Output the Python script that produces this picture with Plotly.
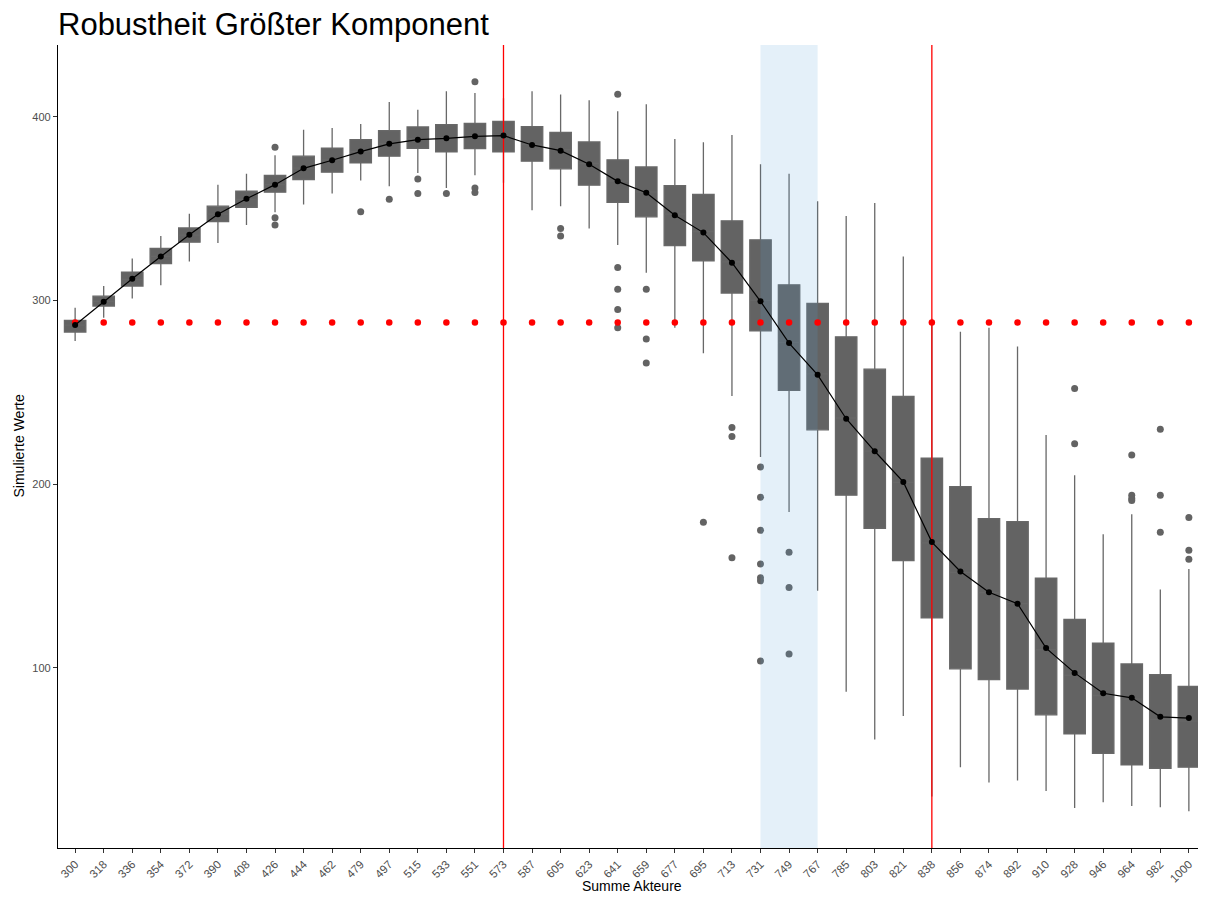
import plotly.graph_objects as go

labels = ["300", "318", "336", "354", "372", "390", "408", "426", "444", "462",
          "479", "497", "515", "533", "551", "573", "587", "605", "623", "641",
          "659", "677", "695", "713", "731", "749", "767", "785", "803", "821",
          "838", "856", "874", "892", "910", "928", "946", "964", "982", "1000"]

q1 = [282.8, 296.9, 307.8, 320.0, 331.7, 342.9, 350.7, 358.9, 365.8, 369.8,
      374.8, 378.5, 382.8, 380.8, 382.6, 380.8, 375.8, 371.6, 362.7, 353.4,
      345.5, 329.8, 321.6, 304.0, 283.5, 251.0, 229.6, 194.0, 176.0, 158.4,
      127.3, 99.5, 93.6, 88.5, 74.5, 64.1, 53.5, 47.2, 45.4, 46.0]

q3 = [289.1, 302.3, 315.4, 328.3, 339.4, 351.3, 359.4, 368.1, 378.5, 382.8,
      387.5, 392.4, 394.4, 395.7, 396.4, 397.4, 394.6, 391.5, 386.2, 376.5,
      372.6, 362.5, 357.7, 343.3, 333.0, 308.5, 298.4, 280.2, 262.6, 247.7,
      214.1, 198.7, 181.2, 179.6, 148.9, 126.4, 113.5, 102.2, 96.4, 90.0]

medians = [286.5, 299.5, 311.5, 324.0, 335.5, 347.0, 355.0, 363.0, 372.0, 376.5,
           381.0, 385.5, 388.0, 388.5, 389.5, 390.0, 385.0, 382.0, 374.5, 365.0,
           359.0, 347.0, 337.5, 321.0, 300.0, 277.0, 260.0, 236.0, 218.0, 201.0,
           168.0, 152.0, 141.0, 135.0, 110.0, 96.0, 85.0, 83.0, 72.0, 71.0]

upper_whisker = [296.0, 307.8, 322.8, 335.0, 347.1, 363.0, 369.0, 379.0, 392.9, 393.8,
                 396.0, 408.0, 403.8, 413.8, 412.9, 410.0, 413.8, 412.0, 408.9, 402.9,
                 406.8, 387.8, 386.1, 390.0, 374.1, 368.9, 353.9, 346.0, 353.0, 323.9,
                 290.0, 282.9, 285.1, 274.9, 226.7, 204.8, 172.8, 183.6, 142.7, 153.9]

lower_whisker = [277.9, 290.6, 301.1, 308.2, 321.2, 331.3, 341.1, 348.0, 352.2, 358.2,
                 365.2, 362.1, 369.4, 361.2, 368.1, 364.0, 349.1, 351.3, 339.1, 330.2,
                 315.0, 285.1, 271.3, 248.0, 214.8, 184.8, 142.0, 87.0, 61.0, 73.8,
                 30.0, 46.0, 37.7, 38.8, 33.0, 23.8, 26.9, 24.9, 24.2, 22.0]

means = [286.6, 299.3, 311.8, 323.9, 335.7, 346.9, 355.3, 363.0, 371.9, 376.3,
         381.0, 385.2, 387.5, 388.2, 389.3, 389.7, 384.6, 381.5, 374.1, 364.8,
         358.6, 346.4, 336.9, 320.5, 299.5, 276.8, 259.5, 235.6, 217.9, 201.2,
         168.5, 152.5, 141.2, 134.9, 110.8, 97.3, 86.2, 83.7, 73.4, 72.7]

outlier_cat = ["426", "426", "426", "479", "497", "515", "515", "533", "551", "551", "551",
               "605", "605", "641", "641", "641", "641", "641", "659", "659", "659",
               "695", "713", "713", "713",
               "731", "731", "731", "731", "731", "731", "731",
               "749", "749", "749", "928", "928",
               "964", "964", "964", "964", "982", "982", "982", "1000", "1000", "1000"]
outlier_val = [383.3, 345.0, 341.1, 348.2, 355.1, 366.1, 358.2, 358.2, 419.0, 361.2, 358.7,
               339.1, 335.0, 412.2, 317.9, 306.1, 295.0, 285.1, 306.1, 279.0, 265.9,
               179.3, 230.9, 226.0, 160.0,
               209.4, 192.9, 174.9, 156.6, 149.1, 147.4, 103.8,
               162.9, 143.8, 107.6, 252.0, 222.0,
               215.9, 194.0, 192.2, 191.1, 229.9, 194.0, 173.9, 181.8, 164.0, 159.1]

reference_value = 288
vline_cats = ["573", "838"]
band_cats = ["731", "767"]

y_range = [2, 439]

idx = {lab: i for i, lab in enumerate(labels)}
xs = list(range(len(labels)))

# page body has an 8px default margin, so the figure is sized to end at the window edge
W, H = 1198, 886
ML, MT, MB = 50, 37, 46
plot_w, plot_h = W - ML, H - MT - MB

fig = go.Figure()

fig.add_trace(go.Box(
    x=xs, q1=q1, median=medians, q3=q3,
    lowerfence=lower_whisker, upperfence=upper_whisker,
    width=0.75, whiskerwidth=0, boxpoints=False,
    fillcolor="#636363", line=dict(color="#686868", width=1.3),
    hoverinfo="skip",
))

fig.add_trace(go.Scatter(
    x=[idx[c] for c in outlier_cat], y=outlier_val, mode="markers",
    marker=dict(color="#636363", size=7), hoverinfo="skip",
))

bx0, bx1 = idx[band_cats[0]], idx[band_cats[1]]
fig.add_trace(go.Scatter(
    x=[bx0, bx1, bx1, bx0, bx0], y=[y_range[0], y_range[0], y_range[1], y_range[1], y_range[0]],
    mode="lines", fill="toself", fillcolor="rgba(90,160,220,0.16)",
    line=dict(width=0), hoverinfo="skip",
))

for c in vline_cats:
    fig.add_trace(go.Scatter(
        x=[idx[c], idx[c]], y=y_range, mode="lines",
        line=dict(color="red", width=1.3), hoverinfo="skip",
    ))

fig.add_trace(go.Scatter(
    x=xs, y=[reference_value] * len(xs), mode="markers",
    marker=dict(color="red", size=6.5), hoverinfo="skip",
))

fig.add_trace(go.Scatter(
    x=xs, y=means, mode="lines+markers",
    line=dict(color="black", width=1.2),
    marker=dict(color="black", size=6), hoverinfo="skip",
))

fig.update_layout(
    width=W, height=H,
    margin=dict(l=ML, r=0, t=MT, b=MB),
    plot_bgcolor="white", paper_bgcolor="white",
    showlegend=False,
    font=dict(family="Liberation Sans, Arial, sans-serif"),
    title=dict(text="Robustheit Größter Komponent", x=ML / W, xanchor="left",
               y=1 - 16 / H, yanchor="middle",
               font=dict(size=31, color="black")),
    xaxis=dict(
        range=[-0.6, len(labels) - 1 + 0.6],
        tickvals=xs, ticktext=labels, tickangle=-45,
        tickfont=dict(size=11.5, color="#4d4d4d"),
        showline=True, linecolor="black", linewidth=1.2,
        ticks="outside", ticklen=4, tickcolor="#333333",
        showgrid=False, zeroline=False, automargin=False,
    ),
    yaxis=dict(
        range=y_range,
        tickvals=[100, 200, 300, 400],
        tickfont=dict(size=11, color="#4d4d4d"),
        showline=True, linecolor="black", linewidth=1.2,
        ticks="outside", ticklen=4, tickcolor="#333333",
        showgrid=False, zeroline=False, automargin=False,
    ),
    annotations=[
        dict(text="Summe Akteure", x=0.5, y=-38 / plot_h, xref="paper", yref="paper",
             xanchor="center", yanchor="middle", showarrow=False,
             font=dict(size=14, color="black")),
        dict(text="Simulierte Werte", x=-40 / plot_w, y=0.5, xref="paper", yref="paper",
             xanchor="center", yanchor="middle", textangle=-90, showarrow=False,
             font=dict(size=14, color="black")),
    ],
)

fig.write_html("out.html")
